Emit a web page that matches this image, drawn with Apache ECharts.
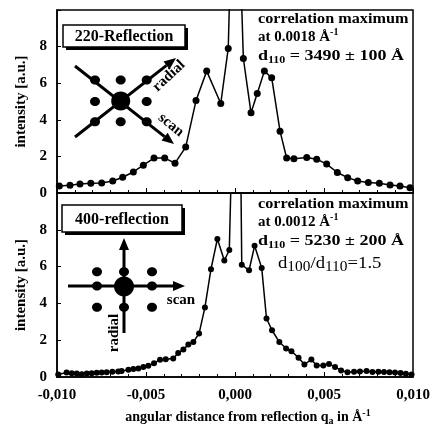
<!DOCTYPE html>
<html><head><meta charset="utf-8">
<script src="https://cdn.jsdelivr.net/npm/echarts@6/dist/echarts.min.js"></script>
<style>html,body{margin:0;padding:0;background:#fff}#c{width:434px;height:428px}</style>
</head><body><div id="c"></div>
<script>
// Top panel: 220-reflection
const qTop = [-0.00987,-0.00927,-0.00871,-0.0081,-0.00749,-0.00687,-0.00631,-0.00571,-0.00515,-0.00455,-0.00395,-0.00337,-0.00277,-0.00219,-0.00159,-0.0008,-0.00038,0.0,0.00047,0.0009,0.00125,0.00165,0.00206,0.00253,0.0029,0.00331,0.00403,0.00459,0.00515,0.00575,0.00633,0.00689,0.00749,0.00811,0.00871,0.00927,0.00983];
const valTop = [0.38,0.42,0.49,0.53,0.55,0.66,0.86,1.15,1.52,1.91,1.91,1.63,2.51,5.05,6.66,4.89,7.9,22,7.35,4.38,5.44,6.66,6.30,3.38,1.91,1.87,1.94,1.85,1.58,1.12,0.84,0.66,0.57,0.53,0.44,0.38,0.29];
// Bottom panel: 400-reflection
const qBottom = [-0.00993,-0.00946,-0.00917,-0.00889,-0.00861,-0.00833,-0.00805,-0.00777,-0.00749,-0.00721,-0.00689,-0.00656,-0.00637,-0.00599,-0.00571,-0.00543,-0.00515,-0.00487,-0.00455,-0.00421,-0.00389,-0.00347,-0.00319,-0.0029,-0.00262,-0.00234,-0.00202,-0.00169,-0.00135,-0.00099,-0.0006,-0.00032,0.00017,0.00038,0.00079,0.0011,0.0015,0.00177,0.00208,0.00249,0.00287,0.00317,0.00357,0.0039,0.00429,0.00459,0.00496,0.00528,0.00562,0.00596,0.00632,0.00669,0.00702,0.00739,0.00772,0.00806,0.00837,0.00868,0.00899,0.0093,0.0096,0.00992];
const valBottom = [0.14,0.25,0.20,0.19,0.15,0.19,0.20,0.23,0.25,0.26,0.28,0.30,0.32,0.39,0.43,0.46,0.54,0.61,0.75,0.94,0.97,1.00,1.30,1.50,1.76,1.90,2.36,3.78,5.86,7.50,6.33,6.90,26,6.10,5.80,7.13,5.93,3.18,2.54,1.90,1.55,1.40,1.05,0.68,0.95,0.62,0.63,0.70,0.55,0.36,0.26,0.28,0.30,0.33,0.27,0.28,0.27,0.26,0.24,0.22,0.18,0.13];
const xTicks = ['-0,010','-0,005','0,000','0,005','0,010'];
const yTicks = [0,2,4,6,8];

const SERIF = '"Liberation Serif", "DejaVu Serif", serif';
const chart = echarts.init(document.getElementById('c'), null, {renderer:'canvas'});

function pairs(q, v){ return q.map((x,i)=>[x, v[i]]); }
function xLabel(v){ const i = Math.round((v + 0.01)/0.005); return xTicks[i] !== undefined ? xTicks[i] : ''; }

function arrow(x1,y1,x2,y2,w){
  const dx=x2-x1, dy=y2-y1, L=Math.hypot(dx,dy), ux=dx/L, uy=dy/L;
  const hl=12, hw=5, bx=x2-ux*hl, by=y2-uy*hl;
  return [
    {type:'line', shape:{x1:x1,y1:y1,x2:bx,y2:by}, style:{stroke:'#000', lineWidth:w}},
    {type:'polygon', shape:{points:[[x2,y2],[bx-uy*hw,by+ux*hw],[bx+uy*hw,by-ux*hw]]}, style:{fill:'#000'}}
  ];
}
function dot(x,y,rx,ry){ return {type:'ellipse', shape:{cx:x,cy:y,rx:rx,ry:ry||rx}, style:{fill:'#000'}}; }
function box(x,y,w,h,label){
  return [
    {type:'rect', shape:{x:x+3,y:y+3,width:w,height:h}, style:{fill:'#000'}},
    {type:'rect', shape:{x:x,y:y,width:w,height:h}, style:{fill:'#fff', stroke:'#000', lineWidth:1.5}},
    {type:'text', x:x+w/2, y:y+h/2+1, style:{text:label, font:'bold 16px '+SERIF, fill:'#000', align:'center', verticalAlign:'middle'}}
  ];
}
const rich = {
  b:{fontFamily:SERIF, fontWeight:'bold', fontSize:15, lineHeight:19, fill:'#000'},
  s:{fontFamily:SERIF, fontWeight:'bold', fontSize:10, lineHeight:19, verticalAlign:'bottom', fill:'#000'},
  p:{fontFamily:SERIF, fontWeight:'bold', fontSize:10, lineHeight:19, verticalAlign:'top', fill:'#000'},
  n:{fontFamily:SERIF, fontSize:17, lineHeight:21, fill:'#000'},
  ns:{fontFamily:SERIF, fontSize:14, lineHeight:21, verticalAlign:'bottom', fill:'#000'}
};
function rtext(x,y,t,sx){ return {type:'text', x:x, y:y, scaleX:sx||1, style:{text:t, rich:rich, verticalAlign:'middle', align:'left'}}; }
function ptext(x,y,t,rot,size,weight){ return {type:'text', x:x, y:y, rotation:rot||0, style:{text:t, font:(weight||'bold')+' '+(size||13)+'px '+SERIF, fill:'#000', align:'center', verticalAlign:'middle'}}; }

const graphics = [].concat(
  box(63,25,122,22,'220-Reflection'),
  arrow(75,66,174,144,3),
  arrow(75,137,176,58,3),
  [dot(95,80,5,4.5),dot(120.7,80,5,4.5),dot(146.7,80,5,4.5),dot(95,101.5,5,4.5),dot(146.7,101.5,5,4.5),dot(95,121.7,5,4.5),dot(120.7,121.7,5,4.5),dot(146.7,121.7,5,4.5),dot(120.7,101,9.5)],
  [ptext(169,76,'radial',0.75,15), ptext(171,125,'scan',-0.68,15)],
  box(62,205,120,27,'400-reflection'),
  arrow(68,286,185,286,3),
  arrow(124,333,124,238,3),
  [dot(97,271.7,5,4.5),dot(124,271.7,5,4.5),dot(152,271.7,5,4.5),dot(97,286,5,4.5),dot(152,286,5,4.5),dot(97,307.3,5,4.5),dot(124,307.3,5,4.5),dot(152,307.3,5,4.5),dot(124,286.5,10)],
  [ptext(181,300,'scan',0,15), ptext(114,333,'radial',Math.PI/2,15)],
  [rtext(258,19,'{b|correlation maximum}',1.08),
   rtext(258,37,'{b|at 0.0018 Å}{p|-1}'),
   rtext(258,56,'{b|d}{s|110}{b| = 3490 ± 100 Å}',1.2),
   rtext(258,204,'{b|correlation maximum}',1.08),
   rtext(258,222,'{b|at 0.0012 Å}{p|-1}'),
   rtext(258,241,'{b|d}{s|110}{b| = 5230 ± 200 Å}',1.2),
   rtext(278,264,'{n|d}{ns|100}{n|/d}{ns|110}{n|=1.5}',1.1)]
);

function yAxis(idx){
  return {
    type:'value', gridIndex:idx, min:0, max:10, interval:2,
    name:'intensity [a.u.]', nameLocation:'middle', nameGap:27,
    nameTextStyle:{fontFamily:SERIF, fontWeight:'bold', fontSize:15, color:'#000'},
    axisLine:{show:true, onZero:false, lineStyle:{color:'#000', width:1.5}},
    axisTick:{show:true, inside:true, length:4, lineStyle:{color:'#000'}},
    splitLine:{show:false},
    axisLabel:{fontFamily:SERIF, fontWeight:'bold', fontSize:15, color:'#000', margin:10,
      formatter:function(v){ return yTicks.indexOf(v) >= 0 ? String(v) : ''; }}
  };
}
function xAxis(idx, labels){
  const a = {
    type:'value', gridIndex:idx, min:-0.01, max:0.01, interval:0.005,
    axisLine:{show:true, onZero:false, lineStyle:{color:'#000', width:1.5}},
    axisTick:{show:true, inside:true, length:5, lineStyle:{color:'#000'}},
    minorTick:{show:true, splitNumber:5, length:3, lineStyle:{color:'#000'}},
    splitLine:{show:false},
    axisLabel:{show:labels, fontFamily:SERIF, fontWeight:'bold', fontSize:15, color:'#000', margin:11, formatter:xLabel}
  };
  if(labels){
    a.name = '{t|angular distance from reflection q}{s|a}{t| in Å}{p|-1}';
    a.nameLocation='middle'; a.nameGap=31;
    a.nameTextStyle = {padding:[0,0,0,26], rich:{
      t:{fontFamily:SERIF, fontWeight:'bold', fontSize:14, lineHeight:18, color:'#000'},
      s:{fontFamily:SERIF, fontWeight:'bold', fontSize:10, lineHeight:18, verticalAlign:'bottom', color:'#000'},
      p:{fontFamily:SERIF, fontWeight:'bold', fontSize:10, lineHeight:18, verticalAlign:'top', color:'#000'}
    }};
  }
  return a;
}
function series(idx, data, size){
  return {type:'line', xAxisIndex:idx, yAxisIndex:idx, data:data, clip:true,
    symbol:'circle', symbolSize:size, showSymbol:true,
    itemStyle:{color:'#000'}, lineStyle:{color:'#000', width:1.5}, animation:false};
}

chart.setOption({
  animation:false,
  backgroundColor:'#fff',
  grid:[
    {left:57, right:21, top:10, height:183, show:true, borderColor:'#000', borderWidth:1.5},
    {left:57, right:21, top:193, height:184, show:true, borderColor:'#000', borderWidth:1.5}
  ],
  xAxis:[xAxis(0,false), xAxis(1,true)],
  yAxis:[yAxis(0), yAxis(1)],
  series:[series(0, pairs(qTop,valTop), 7), series(1, pairs(qBottom,valBottom), 6)],
  graphic:graphics
});
</script></body></html>
